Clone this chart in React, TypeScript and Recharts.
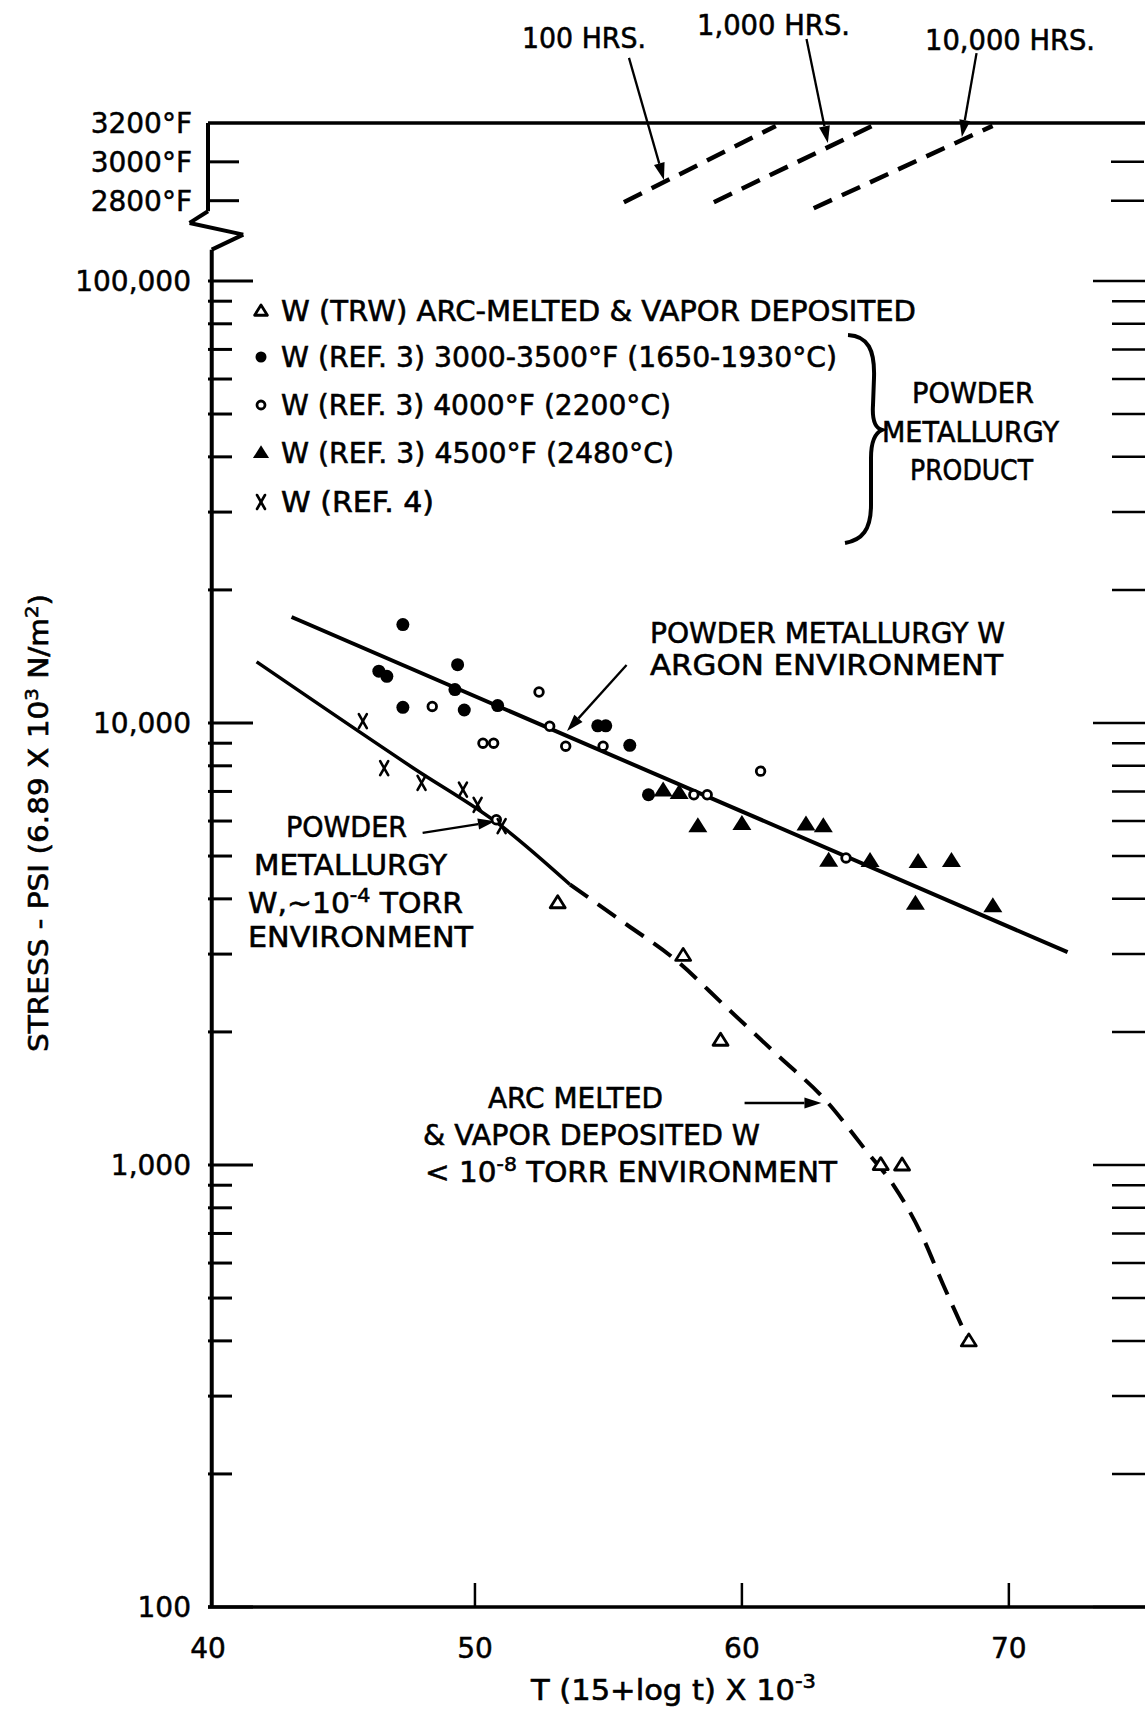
import React from 'react';
import { ComposedChart, Line, Scatter, XAxis, YAxis, ReferenceLine } from 'recharts';

const W = 1145;
const H = 1710;
const FONT = "'DejaVu Sans', sans-serif";

// x = T (15 + log t) x 10^-3, y = stress in psi
const arcMeltedPts = [
  { x: 53.1, y: 3920 },
  { x: 57.8, y: 2980 },
  { x: 59.2, y: 1915 },
  { x: 65.2, y: 1002 },
  { x: 66.0, y: 1000 },
  { x: 68.5, y: 400 },
];

const ref3LowPts = [
  { x: 47.3, y: 16700 },
  { x: 46.4, y: 13100 },
  { x: 46.7, y: 12750 },
  { x: 49.35, y: 13550 },
  { x: 47.3, y: 10850 },
  { x: 49.25, y: 11900 },
  { x: 49.6, y: 10700 },
  { x: 50.85, y: 10950 },
  { x: 54.6, y: 9850 },
  { x: 54.9, y: 9850 },
  { x: 55.8, y: 8900 },
  { x: 56.5, y: 6880 },
];

const ref3MidPts = [
  { x: 48.4, y: 10900 },
  { x: 50.3, y: 9000 },
  { x: 50.7, y: 9000 },
  { x: 52.4, y: 11750 },
  { x: 52.8, y: 9830 },
  { x: 53.4, y: 8860 },
  { x: 54.8, y: 8860 },
  { x: 60.7, y: 7780 },
  { x: 58.2, y: 6880 },
  { x: 58.7, y: 6880 },
  { x: 63.9, y: 4950 },
  { x: 50.8, y: 6040 },
];

const ref3HighPts = [
  { x: 57.05, y: 7030 },
  { x: 57.65, y: 6940 },
  { x: 58.35, y: 5840 },
  { x: 60.0, y: 5910 },
  { x: 62.4, y: 5890 },
  { x: 63.05, y: 5840 },
  { x: 63.25, y: 4880 },
  { x: 64.8, y: 4870 },
  { x: 66.6, y: 4850 },
  { x: 67.85, y: 4870 },
  { x: 66.5, y: 3900 },
  { x: 69.4, y: 3850 },
];

const ref4Pts = [
  { x: 45.8, y: 10100 },
  { x: 46.6, y: 7900 },
  { x: 48.0, y: 7320 },
  { x: 49.55, y: 7070 },
  { x: 50.1, y: 6530 },
  { x: 51.0, y: 5840 },
];

// fitted curves
const argonLine = [
  { x: 43.13, y: 17370 },
  { x: 72.2, y: 3030 },
];
const vacuumSolid = [
  { x: 41.82, y: 13750 },
  { x: 47.7, y: 7900 },
  { x: 51.0, y: 5840 },
  { x: 53.56, y: 4310 },
];
const vacuumDashed = [
  { x: 53.56, y: 4310 },
  { x: 55.68, y: 3500 },
  { x: 57.43, y: 2940 },
  { x: 59.43, y: 2270 },
  { x: 61.3, y: 1780 },
  { x: 63.17, y: 1394 },
  { x: 64.67, y: 1074 },
  { x: 65.67, y: 902 },
  { x: 66.67, y: 708 },
  { x: 67.54, y: 536 },
  { x: 68.45, y: 405 },
];

// constant-time lines on the temperature scale (deg F)
const hrs100 = [
  { x: 55.58, y: 2792 },
  { x: 61.27, y: 3185 },
];
const hrs1000 = [
  { x: 58.95, y: 2792 },
  { x: 64.88, y: 3185 },
];
const hrs10000 = [
  { x: 62.69, y: 2761 },
  { x: 69.39, y: 3185 },
];

const xTicks = [40, 50, 60, 70];
const stressTicks = [
  100, 200, 300, 400, 500, 600, 700, 800, 900,
  1000, 2000, 3000, 4000, 5000, 6000, 7000, 8000, 9000,
  10000, 20000, 30000, 40000, 50000, 60000, 70000, 80000, 90000,
  100000,
];
const stressMajor = [100, 1000, 10000, 100000];
const stressMajorLabels = ['100', '1,000', '10,000', '100,000'];
const tempTicks = [2800, 3000, 3200];
const tempLabels = ['2800°F', '3000°F', '3200°F'];

const X_DOMAIN = [40, 75.1];
const STRESS_DOMAIN = [100, 227700];
const TEMP_DOMAIN = [-4440, 3200];

// left axis with the scale break
const leftAxisPath = [
  { x: 40, y: 227700 },
  { x: 40, y: 143800 },
  { x: 39.31, y: 135300 },
  { x: 41.32, y: 127300 },
  { x: 40.14, y: 117700 },
  { x: 40.14, y: 100 },
];

// annotation arrows
const tempArrows = [
  [{ x: 55.77, y: 3535 }, { x: 57.08, y: 2907 }],
  [{ x: 62.42, y: 3632 }, { x: 63.22, y: 3097 }],
  [{ x: 68.79, y: 3560 }, { x: 68.24, y: 3128 }],
];
const stressArrows = [
  [{ x: 55.68, y: 13530 }, { x: 53.45, y: 9590 }],
  [{ x: 48.04, y: 5640 }, { x: 50.75, y: 5990 }],
  [{ x: 60.1, y: 1381 }, { x: 62.98, y: 1381 }],
];

const FilledDot = ({ cx, cy, r = 6.5 }: any) => <circle cx={cx} cy={cy} r={r} fill="#000" />;
const OpenDot = ({ cx, cy, r = 4.3 }: any) => (
  <circle cx={cx} cy={cy} r={r} fill="#fff" stroke="#000" strokeWidth={2.8} />
);
const FilledTri = ({ cx, cy, s = 1 }: any) => (
  <polygon points={`${cx},${cy - 9 * s} ${cx + 9.5 * s},${cy + 6 * s} ${cx - 9.5 * s},${cy + 6 * s}`} fill="#000" />
);
const OpenTri = ({ cx, cy, s = 1 }: any) => (
  <polygon
    points={`${cx},${cy - 7 * s} ${cx + 7.5 * s},${cy + 5 * s} ${cx - 7.5 * s},${cy + 5 * s}`}
    fill="#fff"
    stroke="#000"
    strokeWidth={2.8}
    strokeLinejoin="round"
  />
);
const XMark = ({ cx, cy }: any) => (
  <g stroke="#000" strokeWidth={2.6} strokeLinecap="round">
    <line x1={cx - 4} y1={cy - 7} x2={cx + 4} y2={cy + 7} />
    <line x1={cx + 4} y1={cy - 7} x2={cx - 4} y2={cy + 7} />
  </g>
);

const Arrow = (props: any) => {
  const { x1, y1, x2, y2 } = props;
  const ang = Math.atan2(y2 - y1, x2 - x1);
  const L = 17;
  const hw = 5.5;
  const bx = x2 - L * Math.cos(ang);
  const by = y2 - L * Math.sin(ang);
  const px = -Math.sin(ang) * hw;
  const py = Math.cos(ang) * hw;
  return (
    <g>
      <line x1={x1} y1={y1} x2={bx} y2={by} stroke="#000" strokeWidth={2.3} />
      <polygon points={`${x2},${y2} ${bx + px},${by + py} ${bx - px},${by - py}`} fill="#000" />
    </g>
  );
};

const tickText = { fontSize: 28, fontFamily: FONT, fill: '#000', stroke: '#000', strokeWidth: 0.5 };

const LeftStressTick = (props: any) => {
  const { x, y, payload } = props;
  const i = stressMajor.indexOf(payload.value);
  const major = i >= 0;
  return (
    <g>
      <line x1={x} y1={y} x2={x + (major ? 45 : 24)} y2={y} stroke="#000" strokeWidth={3} />
      {major && (
        <text x={x - 17} y={y + 10} textAnchor="end" {...tickText}>
          {stressMajorLabels[i]}
        </text>
      )}
    </g>
  );
};

const RightStressTick = (props: any) => {
  const { x, y, payload } = props;
  const major = stressMajor.includes(payload.value);
  return <line x1={x} y1={y} x2={x - (major ? 52 : 33)} y2={y} stroke="#000" strokeWidth={2.5} />;
};

const LeftTempTick = (props: any) => {
  const { x, y, payload } = props;
  const i = tempTicks.indexOf(payload.value);
  return (
    <g>
      {payload.value !== 3200 && <line x1={x} y1={y} x2={x + 30} y2={y} stroke="#000" strokeWidth={3} />}
      <text x={x - 17} y={y + 10} textAnchor="end" {...tickText}>
        {tempLabels[i]}
      </text>
    </g>
  );
};

const RightTempTick = (props: any) => {
  const { x, y, payload } = props;
  if (payload.value === 3200) return <g />;
  return <line x1={x} y1={y} x2={x - 33} y2={y} stroke="#000" strokeWidth={2.5} />;
};

const XTick = (props: any) => {
  const { x, y, payload } = props;
  return (
    <g>
      {payload.value !== 40 && <line x1={x} y1={y} x2={x} y2={y - 24} stroke="#000" strokeWidth={2.5} />}
      <text x={x} y={y + 51} textAnchor="middle" {...tickText}>
        {payload.value}
      </text>
    </g>
  );
};

const legendRows = [
  { label: 'W (TRW) ARC-MELTED & VAPOR DEPOSITED', w: 635, mark: 'openTri' },
  { label: 'W (REF. 3) 3000-3500°F (1650-1930°C)', w: 556, mark: 'dot' },
  { label: 'W (REF. 3) 4000°F (2200°C)', w: 390, mark: 'open' },
  { label: 'W (REF. 3) 4500°F (2480°C)', w: 393, mark: 'tri' },
  { label: 'W (REF. 4)', w: 153, mark: 'x' },
];
const legendBaselines = [321, 367, 415, 463, 512];

const LegendMark = ({ kind, cx, cy }: any) => {
  if (kind === 'openTri') return <OpenTri cx={cx} cy={cy} s={0.85} />;
  if (kind === 'dot') return <FilledDot cx={cx} cy={cy} r={5.5} />;
  if (kind === 'open') return <OpenDot cx={cx} cy={cy} r={4} />;
  if (kind === 'tri') return <FilledTri cx={cx} cy={cy} s={0.85} />;
  return <XMark cx={cx} cy={cy} />;
};

const T = ({ x, y, w, size = 29, children }: any) => (
  <text
    x={x}
    y={y}
    fontSize={size}
    textLength={w}
    lengthAdjust="spacingAndGlyphs"
    fill="#000"
    stroke="#000"
    strokeWidth={0.6}
    fontFamily={FONT}
  >
    {children}
  </text>
);

const axisCommon = {
  type: 'number' as const,
  allowDataOverflow: true,
  interval: 0,
  mirror: true,
  width: 1,
  tickSize: 0,
  tickMargin: 0,
  tickLine: false,
  axisLine: false,
};

export default function App() {
  return (
    <div
      style={{ position: 'absolute', left: 0, top: 0, width: W, height: H, overflow: 'hidden', background: '#fff' }}
    >
      <ComposedChart width={W} height={H} margin={{ top: 123, right: 0, bottom: 0, left: 208 }}>
        <XAxis
          type="number"
          dataKey="x"
          domain={X_DOMAIN}
          allowDataOverflow
          ticks={xTicks}
          interval={0}
          tickSize={0}
          tickMargin={0}
          tickLine={false}
          height={103}
          axisLine={{ stroke: '#000', strokeWidth: 3.5 }}
          tick={XTick}
        />
        <YAxis yAxisId="stress" dataKey="y" scale="log" domain={STRESS_DOMAIN} ticks={stressTicks} tick={LeftStressTick} {...axisCommon} />
        <YAxis yAxisId="stressRight" orientation="right" scale="log" domain={STRESS_DOMAIN} ticks={stressTicks} tick={RightStressTick} {...axisCommon} />
        <YAxis yAxisId="temp" dataKey="y" domain={TEMP_DOMAIN} ticks={tempTicks} tick={LeftTempTick} {...axisCommon} />
        <YAxis yAxisId="tempRight" orientation="right" domain={TEMP_DOMAIN} ticks={tempTicks} tick={RightTempTick} {...axisCommon} />

        <ReferenceLine yAxisId="temp" y={3200} stroke="#000" strokeWidth={3.5} />
        {leftAxisPath.slice(1).map((p, i) => (
          <ReferenceLine
            key={`ax-${i}`}
            yAxisId="stress"
            segment={[leftAxisPath[i], p]}
            ifOverflow="visible"
            stroke="#000"
            strokeWidth={4}
          />
        ))}

        <Line yAxisId="temp" data={hrs100} dataKey="y" type="linear" stroke="#000" strokeWidth={4.5} strokeDasharray="20 11" dot={false} activeDot={false} isAnimationActive={false} />
        <Line yAxisId="temp" data={hrs1000} dataKey="y" type="linear" stroke="#000" strokeWidth={4.5} strokeDasharray="20 11" dot={false} activeDot={false} isAnimationActive={false} />
        <Line yAxisId="temp" data={hrs10000} dataKey="y" type="linear" stroke="#000" strokeWidth={4.5} strokeDasharray="20 11" dot={false} activeDot={false} isAnimationActive={false} />

        <Line yAxisId="stress" data={argonLine} dataKey="y" type="linear" stroke="#000" strokeWidth={4} dot={false} activeDot={false} isAnimationActive={false} />
        <Line yAxisId="stress" data={vacuumSolid} dataKey="y" type="monotone" stroke="#000" strokeWidth={3.5} dot={false} activeDot={false} isAnimationActive={false} />
        <Line yAxisId="stress" data={vacuumDashed} dataKey="y" type="monotone" stroke="#000" strokeWidth={4} strokeDasharray="22 12" dot={false} activeDot={false} isAnimationActive={false} />

        <Scatter yAxisId="stress" data={ref3LowPts} isAnimationActive={false} shape={(p: any) => <FilledDot cx={p.cx} cy={p.cy} />} />
        <Scatter yAxisId="stress" data={ref3MidPts} isAnimationActive={false} shape={(p: any) => <OpenDot cx={p.cx} cy={p.cy} />} />
        <Scatter yAxisId="stress" data={ref3HighPts} isAnimationActive={false} shape={(p: any) => <FilledTri cx={p.cx} cy={p.cy} />} />
        <Scatter yAxisId="stress" data={arcMeltedPts} isAnimationActive={false} shape={(p: any) => <OpenTri cx={p.cx} cy={p.cy} />} />
        <Scatter yAxisId="stress" data={ref4Pts} isAnimationActive={false} shape={(p: any) => <XMark cx={p.cx} cy={p.cy} />} />

        {tempArrows.map((seg, i) => (
          <ReferenceLine key={`ta-${i}`} yAxisId="temp" segment={seg} ifOverflow="visible" shape={(p: any) => <Arrow {...p} />} />
        ))}
        {stressArrows.map((seg, i) => (
          <ReferenceLine key={`sa-${i}`} yAxisId="stress" segment={seg} ifOverflow="visible" shape={(p: any) => <Arrow {...p} />} />
        ))}
      </ComposedChart>

      <svg
        width={W}
        height={H}
        style={{ position: 'absolute', left: 0, top: 0, pointerEvents: 'none' }}
      >
        <T x={522} y={48} w={124}>100 HRS.</T>
        <T x={697} y={35} w={153}>1,000 HRS.</T>
        <T x={925} y={50} w={170}>10,000 HRS.</T>

        {legendRows.map((r, i) => (
          <g key={r.label}>
            <LegendMark kind={r.mark} cx={261} cy={legendBaselines[i] - 10} />
            <T x={281} y={legendBaselines[i]} w={r.w}>{r.label}</T>
          </g>
        ))}

        <path
          d="M 848 335 C 868 336, 875 350, 874 378 L 873 405 C 872 420, 875 428, 882 430 C 875 433, 871 442, 871 458 L 871 505 C 871 530, 862 540, 845 543"
          fill="none"
          stroke="#000"
          strokeWidth={4}
        />
        <T x={912} y={403} w={122}>POWDER</T>
        <T x={882} y={442} w={177}>METALLURGY</T>
        <T x={910} y={480} w={123}>PRODUCT</T>

        <T x={650} y={643} w={355}>POWDER METALLURGY W</T>
        <T x={650} y={675} w={353}>ARGON ENVIRONMENT</T>

        <T x={286} y={837} w={121}>POWDER</T>
        <T x={254} y={875} w={193}>METALLURGY</T>
        <T x={248} y={913} w={215}>
          W,~10<tspan dy={-11} fontSize={20}>-4</tspan>
          <tspan dy={11}> TORR</tspan>
        </T>
        <T x={248} y={947} w={225}>ENVIRONMENT</T>

        <T x={488} y={1108} w={175}>ARC MELTED</T>
        <T x={423} y={1145} w={337}>&amp; VAPOR DEPOSITED W</T>
        <T x={425} y={1182} w={412}>
          &lt; 10<tspan dy={-11} fontSize={20}>-8</tspan>
          <tspan dy={11}> TORR ENVIRONMENT</tspan>
        </T>

        <T x={531} y={1700} w={285}>
          T (15+log t) X 10<tspan dy={-12} fontSize={20}>-3</tspan>
        </T>

        <text
          x={48}
          y={823}
          transform="rotate(-90 48 823)"
          textAnchor="middle"
          fontSize={27}
          fontFamily={FONT}
          fill="#000"
          stroke="#000"
          strokeWidth={0.6}
          textLength={458}
          lengthAdjust="spacingAndGlyphs"
        >
          STRESS - PSI (6.89 X 10<tspan dy={-10} fontSize={18}>3</tspan>
          <tspan dy={10}> N/m</tspan>
          <tspan dy={-10} fontSize={18}>2</tspan>
          <tspan dy={10}>)</tspan>
        </text>
      </svg>
    </div>
  );
}
